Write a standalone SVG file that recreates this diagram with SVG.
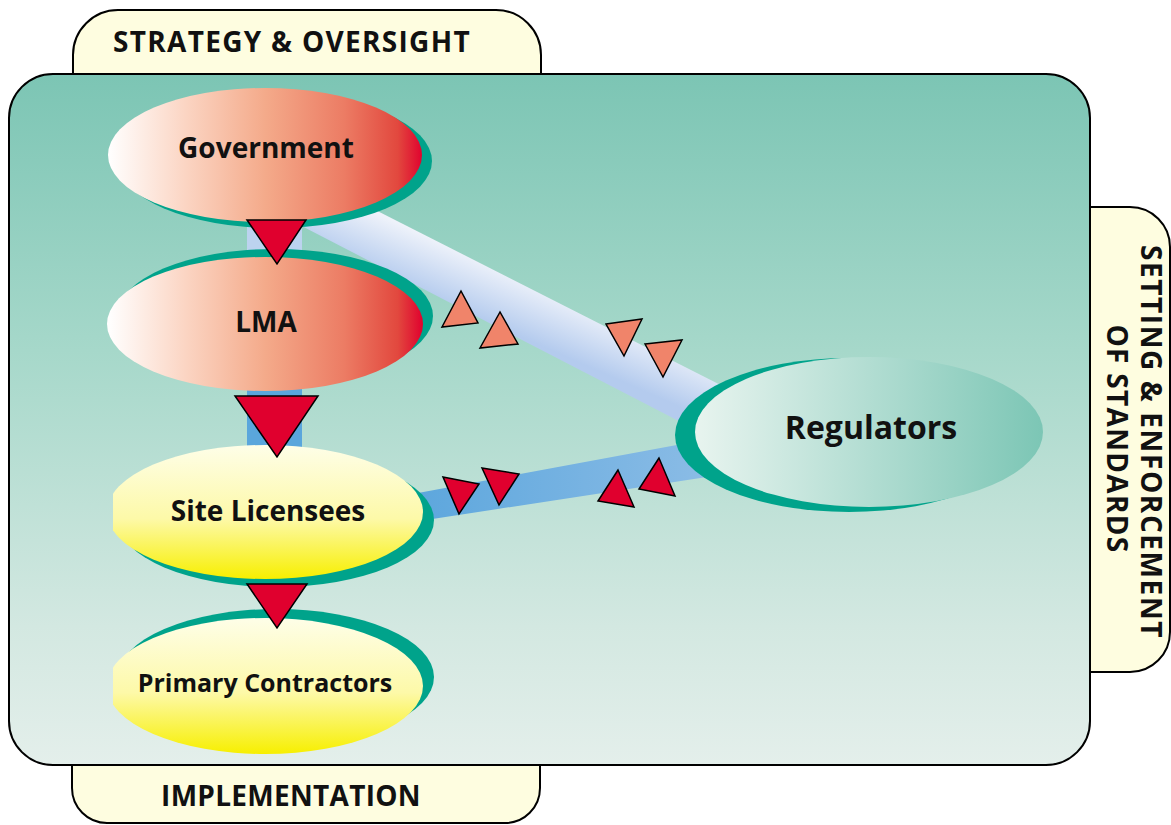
<svg xmlns="http://www.w3.org/2000/svg" width="1171" height="825" viewBox="0 0 1171 825">
  <defs>
    <linearGradient id="panelFill" x1="0" y1="74" x2="0" y2="765" gradientUnits="userSpaceOnUse">
      <stop offset="0" stop-color="#7cc5b4"/>
      <stop offset="0.4" stop-color="#a6d8ca"/>
      <stop offset="0.8" stop-color="#d3e8e1"/>
      <stop offset="1" stop-color="#e4efeb"/>
    </linearGradient>
    <linearGradient id="redFill" x1="108" y1="0" x2="423" y2="0" gradientUnits="userSpaceOnUse">
      <stop offset="0" stop-color="#ffffff"/>
      <stop offset="0.25" stop-color="#fbd4c2"/>
      <stop offset="0.5" stop-color="#f4aa8a"/>
      <stop offset="0.75" stop-color="#ec7c64"/>
      <stop offset="0.92" stop-color="#e2483e"/>
      <stop offset="1" stop-color="#e0002e"/>
    </linearGradient>
    <linearGradient id="yellowFill" x1="0" y1="0" x2="0" y2="1">
      <stop offset="0" stop-color="#fefee8"/>
      <stop offset="0.55" stop-color="#fdf9a8"/>
      <stop offset="1" stop-color="#f7ef00"/>
    </linearGradient>
    <linearGradient id="regFill" x1="695" y1="0" x2="1043" y2="0" gradientUnits="userSpaceOnUse">
      <stop offset="0" stop-color="#e8f4ef"/>
      <stop offset="1" stop-color="#7cc6b5"/>
    </linearGradient>
    <linearGradient id="upperBand" x1="500" y1="268" x2="478" y2="318" gradientUnits="userSpaceOnUse">
      <stop offset="0" stop-color="#eef2fa"/>
      <stop offset="1" stop-color="#b4cbee"/>
    </linearGradient>
    <linearGradient id="lowerBand" x1="380" y1="0" x2="720" y2="0" gradientUnits="userSpaceOnUse">
      <stop offset="0" stop-color="#57a4dc"/>
      <stop offset="1" stop-color="#8dbde6"/>
    </linearGradient>
    <clipPath id="leftCut">
      <rect x="113" y="0" width="1000" height="825"/>
    </clipPath>
    <style>
      .frame { stroke: #000; stroke-width: 2; }
      .tab { fill: #fefde0; }
      .shadow { fill: #00a38b; }
      .label { font-family: "Open Sans", "Liberation Sans", sans-serif; font-weight: 700; fill: #111; text-anchor: middle; }
      .name { font-size: 28px; }
      .head { font-size: 28px; }
      .arrow { fill: #e0002e; stroke: #000; stroke-width: 1.5; stroke-linejoin: miter; }
      .arrow-soft { fill: #f0846a; stroke: #000; stroke-width: 1.5; }
    </style>
  </defs>

  <!-- side tabs, tucked behind the main panel -->
  <g id="tab-strategy">
    <rect class="tab frame" x="73" y="10" width="468" height="110" rx="45"/>
  </g>
  <g id="tab-implementation">
    <rect class="tab frame" x="72" y="700" width="468" height="123" rx="35"/>
  </g>
  <g id="tab-standards">
    <rect class="tab frame" x="1040" y="207" width="130" height="465" rx="40"/>
  </g>

  <!-- main panel -->
  <rect id="panel" class="frame" x="9" y="74" width="1081" height="691" rx="44" fill="url(#panelFill)"/>

  <!-- tab captions -->
  <text class="label head" x="292" y="52" letter-spacing="1.3">STRATEGY &amp; OVERSIGHT</text>
  <text class="label head" x="291" y="806" letter-spacing="0.3">IMPLEMENTATION</text>
  <text class="label head" transform="translate(1141,442) rotate(90)" letter-spacing="1.6">SETTING &amp; ENFORCEMENT</text>
  <text class="label head" transform="translate(1107,439) rotate(90)" letter-spacing="1.3">OF STANDARDS</text>

  <!-- links between the bodies -->
  <g id="connectors">
    <polygon points="265,154 760,405 760,463 265,207" fill="url(#upperBand)"/>
    <polygon points="380,500 720,437 720,475 380,527" fill="url(#lowerBand)"/>
    <rect x="247" y="200" width="55" height="70" fill="#bcd3ef"/>
    <rect x="247" y="370" width="55" height="90" fill="#5aa6dc"/>
  </g>

  <g id="node-government">
    <ellipse class="shadow" cx="275" cy="161" rx="157" ry="67"/>
    <ellipse cx="265" cy="155" rx="157" ry="67" fill="url(#redFill)"/>
    <text class="label name" x="266" y="158">Government</text>
  </g>

  <g id="node-lma">
    <ellipse class="shadow" cx="275" cy="316" rx="158" ry="67"/>
    <ellipse cx="265" cy="324" rx="158" ry="67" fill="url(#redFill)"/>
    <text class="label name" x="266" y="332">LMA</text>
  </g>

  <g id="node-site-licensees">
    <ellipse class="shadow" cx="276" cy="520" rx="158" ry="67"/>
    <ellipse cx="265" cy="512" rx="158" ry="67" fill="url(#yellowFill)" clip-path="url(#leftCut)"/>
    <text class="label name" x="268" y="521">Site Licensees</text>
  </g>

  <g id="node-primary-contractors">
    <ellipse class="shadow" cx="276" cy="677" rx="158" ry="68"/>
    <ellipse cx="265" cy="686" rx="158" ry="68" fill="url(#yellowFill)" clip-path="url(#leftCut)"/>
    <text class="label" style="font-size:25px" x="265" y="692">Primary Contractors</text>
  </g>

  <g id="node-regulators">
    <ellipse class="shadow" cx="849" cy="435" rx="174" ry="77"/>
    <ellipse cx="869" cy="432" rx="174" ry="75" fill="url(#regFill)"/>
    <text class="label" style="font-size:32px" x="871" y="439">Regulators</text>
  </g>

  <!-- direction markers sitting on the links -->
  <g id="arrowheads">
    <polygon class="arrow" points="247,220 306,220 277,264"/>
    <polygon class="arrow" points="235,396 318,396 277,457"/>
    <polygon class="arrow" points="247,584 307,584 277,628"/>

    <polygon class="arrow-soft" points="461,291 442,327 478,323"/>
    <polygon class="arrow-soft" points="500,312 480,348 518,344"/>
    <polygon class="arrow-soft" points="606,324 642,319 624,356"/>
    <polygon class="arrow-soft" points="645,344 682,340 663,377"/>

    <polygon class="arrow" points="443,477 479,484 459,514"/>
    <polygon class="arrow" points="482,468 519,474 499,505"/>
    <polygon class="arrow" points="618,470 598,501 634,507"/>
    <polygon class="arrow" points="659,458 639,489 675,496"/>
  </g>
</svg>
